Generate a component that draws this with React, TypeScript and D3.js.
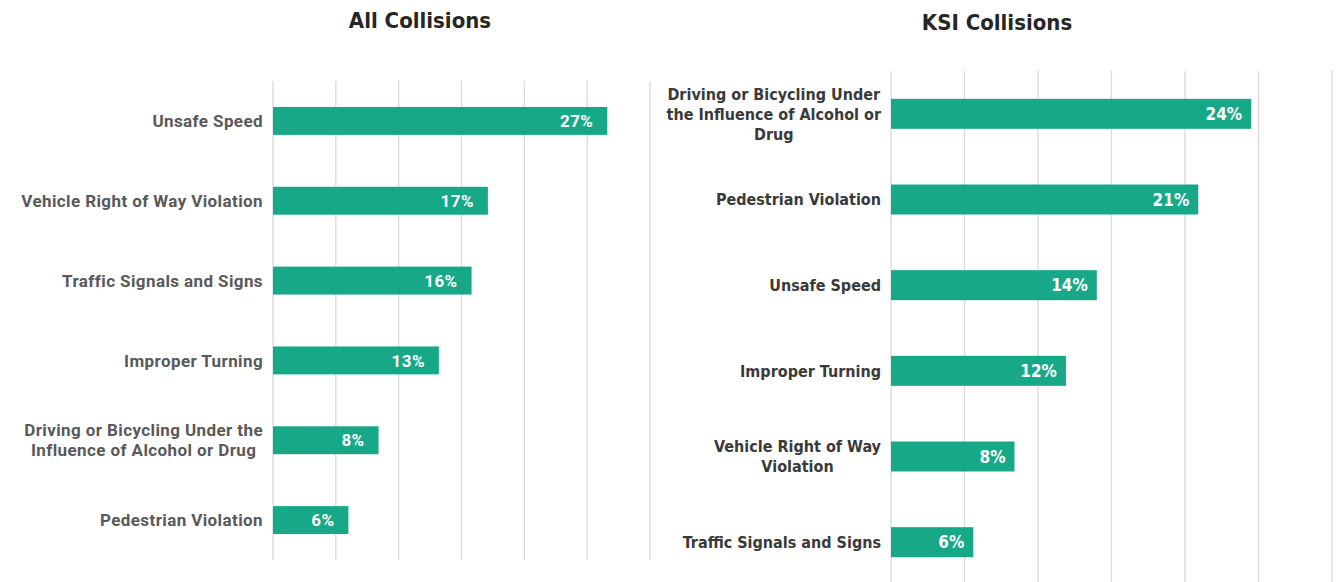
import React, { useEffect, useRef } from "react";
import * as d3 from "d3";

const allCategories = [
  "Unsafe Speed",
  "Vehicle Right of Way Violation",
  "Traffic Signals and Signs",
  "Improper Turning",
  "Driving or Bicycling Under the|Influence of Alcohol or Drug",
  "Pedestrian Violation",
];
const allValues = [26.6, 17.1, 15.8, 13.2, 8.4, 6.0];
const allLabels = ["27%", "17%", "16%", "13%", "8%", "6%"];

const ksiCategories = [
  "Driving or Bicycling Under|the Influence of Alcohol or|Drug",
  "Pedestrian Violation",
  "Unsafe Speed",
  "Improper Turning",
  "Vehicle Right of Way|Violation",
  "Traffic Signals and Signs",
];
const ksiValues = [24.5, 20.9, 14.0, 11.9, 8.4, 5.6];
const ksiLabels = ["24%", "21%", "14%", "12%", "8%", "6%"];

const gridTicks = [0, 5, 10, 15, 20, 25, 30];

const GREEN = "#17a987";
const GRID = "#d9d9d9";

type PanelCfg = {
  title: string;
  titleX: number;
  titleY: number;
  cats: string[];
  vals: number[];
  labels: string[];
  x0: number;
  x1: number;
  y0: number;
  y1: number;
  labelRight: number;
  labelFont: string;
  labelSize: number;
  labelSpacing: number;
  labelColor: string;
  lineHeight: number;
  valFont: string;
  valSize: number;
  valSpacing: number;
  valPad: number;
};

export default function App() {
  const ref = useRef<SVGSVGElement>(null);

  useEffect(() => {
    const svg = d3.select(ref.current);
    svg.selectAll("*").remove();

    const panels: PanelCfg[] = [
      {
        title: "All Collisions",
        titleX: 420,
        titleY: 28,
        cats: allCategories,
        vals: allValues,
        labels: allLabels,
        x0: 273,
        x1: 650,
        y0: 81,
        y1: 560,
        labelRight: 263,
        labelFont: "Roboto, sans-serif",
        labelSize: 17,
        labelSpacing: 0.4,
        labelColor: "#595959",
        lineHeight: 20,
        valFont: "Roboto, sans-serif",
        valSize: 17,
        valSpacing: 0.4,
        valPad: 14,
      },
      {
        title: "KSI Collisions",
        titleX: 997,
        titleY: 30,
        cats: ksiCategories,
        vals: ksiValues,
        labels: ksiLabels,
        x0: 891,
        x1: 1332,
        y0: 71,
        y1: 585,
        labelRight: 881,
        labelFont: "'DejaVu Sans Condensed', 'DejaVu Sans', sans-serif",
        labelSize: 16,
        labelSpacing: 0,
        labelColor: "#3a3a3a",
        lineHeight: 20,
        valFont: "'DejaVu Sans Condensed', 'DejaVu Sans', sans-serif",
        valSize: 17,
        valSpacing: 0,
        valPad: 9,
      },
    ];

    panels.forEach((p) => {
      const g = svg.append("g");
      const x = d3.scaleLinear().domain([0, 30]).range([p.x0, p.x1]);
      const y = d3
        .scaleBand<string>()
        .domain(p.cats)
        .range([p.y0, p.y1])
        .paddingInner(0.65)
        .paddingOuter(0.325);

      g.append("text")
        .attr("x", p.titleX)
        .attr("y", p.titleY)
        .attr("text-anchor", "middle")
        .attr("font-family", "'DejaVu Sans Condensed', 'DejaVu Sans', sans-serif")
        .attr("font-weight", "bold")
        .attr("font-size", 22)
        .attr("fill", "#262626")
        .text(p.title);

      g.selectAll("line.grid")
        .data(gridTicks)
        .join("line")
        .attr("class", "grid")
        .attr("x1", (d) => x(d))
        .attr("x2", (d) => x(d))
        .attr("y1", p.y0)
        .attr("y2", p.y1)
        .attr("stroke", GRID)
        .attr("stroke-width", 1.3);

      p.cats.forEach((c, i) => {
        const by = y(c)!;
        const bh = y.bandwidth();
        g.append("rect")
          .attr("x", x(0))
          .attr("y", by)
          .attr("width", x(p.vals[i]) - x(0))
          .attr("height", bh)
          .attr("fill", GREEN);

        g.append("text")
          .attr("x", x(p.vals[i]) - p.valPad)
          .attr("y", by + bh / 2)
          .attr("dy", "0.36em")
          .attr("text-anchor", "end")
          .attr("font-family", p.valFont)
          .attr("font-weight", "bold")
          .attr("font-size", p.valSize)
          .attr("letter-spacing", p.valSpacing)
          .attr("fill", "#ffffff")
          .text(p.labels[i]);

        const lines = c.split("|");
        const t = g
          .append("text")
          .attr("font-family", p.labelFont)
          .attr("font-weight", "bold")
          .attr("font-size", p.labelSize)
          .attr("letter-spacing", p.labelSpacing)
          .attr("fill", p.labelColor)
          .attr("text-anchor", "middle");
        const spans = lines.map((ln, k) =>
          t
            .append("tspan")
            .attr("y", by + bh / 2 + (k - (lines.length - 1) / 2) * p.lineHeight)
            .attr("dy", "0.36em")
            .text(ln)
        );
        let maxW = 0;
        spans.forEach((s) => {
          const w = (s.node() as SVGTSpanElement).getComputedTextLength();
          if (w > maxW) maxW = w;
        });
        const cx = p.labelRight - maxW / 2;
        spans.forEach((s) => s.attr("x", cx));
      });
    });
  }, []);

  return (
    <svg
      ref={ref}
      width={1337}
      height={582}
      style={{ position: "absolute", left: 0, top: 0, background: "#ffffff" }}
    />
  );
}
